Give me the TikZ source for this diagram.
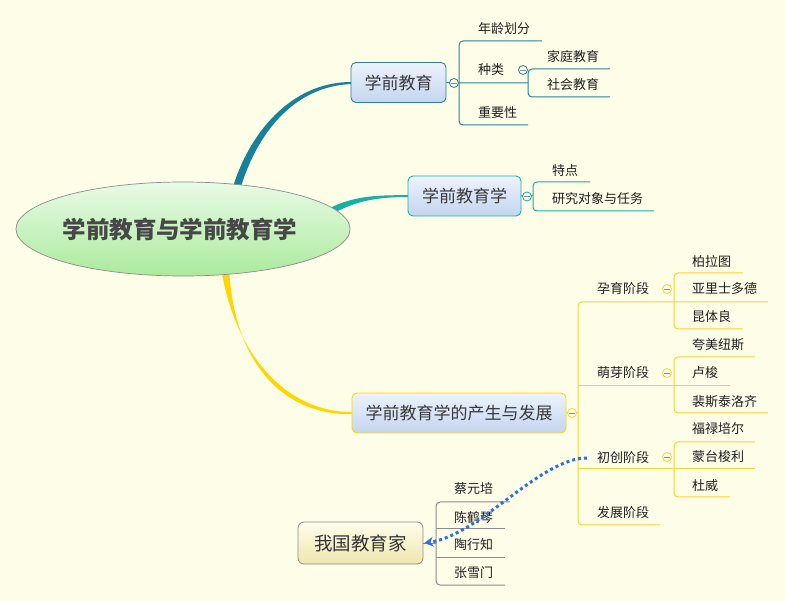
\documentclass[tikz,border=0pt]{standalone}
\usepackage{fontspec}
\newfontfamily\cjk{Noto Sans CJK SC}
\usetikzlibrary{arrows.meta,shapes.geometric}
\definecolor{bg}{HTML}{FEFDE8}
\definecolor{bA}{HTML}{17809A}
\definecolor{bAl}{HTML}{2A8496}
\definecolor{bB}{HTML}{16B0A6}
\definecolor{bC}{HTML}{FFD700}
\definecolor{bCl}{HTML}{F6D53A}
\definecolor{gl}{HTML}{8C8C8C}
\definecolor{boxtop}{HTML}{EEF3FC}
\definecolor{boxbot}{HTML}{C3D5F0}
\definecolor{eltop}{HTML}{E8FBE6}
\definecolor{elbot}{HTML}{ABEA9C}
\definecolor{ytop}{HTML}{FFFDEC}
\definecolor{ybot}{HTML}{EFE6AE}
\definecolor{arr}{HTML}{2F6FE0}
\begin{document}
\begin{tikzpicture}[x=1pt,y=-1pt,
  leaf/.style={font=\cjk\fontsize{13}{15}\selectfont, inner sep=0pt, text=black!88, anchor=west},
  topic/.style={draw, rounded corners=5pt, line width=0.9pt, top color=boxtop, bottom color=boxbot,
     font=\cjk\fontsize{17}{20}\selectfont, text=black!78, inner sep=0pt, minimum height=40pt},
  sub/.style={line width=1pt, rounded corners=4pt},
  knob/.style={circle, draw, fill=bg, minimum size=9pt, inner sep=0pt, line width=0.8pt,
     path picture={\draw[line width=0.6pt, gl] ([xshift=-2.6pt]path picture bounding box.center) -- ([xshift=2.6pt]path picture bounding box.center);}}
]
\fill[bg] (0,0) rectangle (785,601);
\useasboundingbox (0,0) rectangle (785,601);

% main tapered branches
\fill[bA] (232,190) .. controls (248,135) and (290,81.6) .. (352,82) -- (352,84) .. controls (291,86) and (255,138) .. (240,190) -- cycle;
\fill[bB] (326,210) .. controls (352,196) and (375,195) .. (409,195.2) -- (409,197) .. controls (376,197) and (356,201) .. (332,214) -- cycle;
\fill[bC] (221,268) .. controls (236,360) and (290,412.5) .. (352,412) -- (352,414) .. controls (286,416) and (234,366) .. (229,268) -- cycle;

% central
\node[ellipse, draw=gl, line width=0.7pt, top color=eltop, bottom color=elbot,
  minimum width=334pt, minimum height=94pt, inner sep=0pt] (root) at (183,229) {};
\node[font=\cjk\bfseries\fontsize{23.5}{26}\selectfont, text=black!72] at (180,229) {学前教育与学前教育学};

% branch A
\node[topic, draw=bAl, minimum width=95pt] (A) at (398.5,82.5) {学前教育};
\node[leaf] (A1) at (478,29) {年龄划分};
\node[leaf] (A2) at (478,70) {种类};
\node[leaf] (A3) at (478,113) {重要性};
\node[leaf] (A21) at (547,57) {家庭教育};
\node[leaf] (A22) at (547,85) {社会教育};
\coordinate (jA) at (459,83);
\coordinate (jA2) at (528,83);
\draw[sub, bAl] (542,41) -- (459,41) -- (459,125) -- (528,125);
\draw[sub, bAl] (A.east) -- (jA) -- (jA2);
\draw[sub, bAl] (610,69) -- (528,69) -- (528,97) -- (610,97);
\node[knob, draw=bAl] at (454,83) {};
\node[knob, draw=bAl] at (523,70) {};

% branch B
\node[topic, draw=bB, minimum width=113pt] (B) at (464.5,196) {学前教育学};
\node[leaf] (B1) at (552,171) {特点};
\node[leaf] (B2) at (552,199) {研究对象与任务};
\draw[sub, bB] (590,182) -- (533,182) -- (533,211) -- (654,211);
\draw[sub, bB] (B.east) -- (533,196);
\node[knob, draw=bB] at (527,196.5) {};

% branch C
\node[topic, draw=bC, minimum width=214pt] (C) at (459,413) {学前教育学的产生与发展};
\node[leaf] (C1) at (597,289) {孕育阶段};
\node[leaf] (C2) at (597,373) {萌芽阶段};
\node[leaf] (C3) at (597,458) {初创阶段};
\node[leaf] (C4) at (597,513) {发展阶段};
\draw[sub, bCl] (768,302) -- (578,302) -- (578,525) -- (660,525);
\draw[sub, bCl] (C.east) -- (578,413);
\draw[sub, bCl] (578,386) -- (674,386);
\draw[sub, bCl] (578,469) -- (674,469);
\node[knob, draw=bCl] at (572,413) {};

\node[leaf] (C11) at (692,262) {柏拉图};
\node[leaf] (C12) at (692,289) {亚里士多德};
\node[leaf] (C13) at (692,317) {昆体良};
\draw[sub, bCl] (743,273) -- (674,273) -- (674,329) -- (743,329);
\node[knob, draw=bCl] at (667,289) {};

\node[leaf] (C21) at (692,345) {夸美纽斯};
\node[leaf] (C22) at (692,373) {卢梭};
\node[leaf] (C23) at (692,402) {裴斯泰洛齐};
\draw[sub, bCl] (755,357) -- (674,357) -- (674,413) -- (768,413);
\draw[sub, bCl] (674,386) -- (730,386);
\node[knob, draw=bCl] at (667,373) {};

\node[leaf] (C31) at (692,429) {福禄培尔};
\node[leaf] (C32) at (692,457) {蒙台梭利};
\node[leaf] (C33) at (692,486) {杜威};
\draw[sub, bCl] (755,442) -- (674,442) -- (674,497) -- (730,497);
\draw[sub, bCl] (674,469) -- (755,469);
\node[knob, draw=bCl] at (667,457) {};

% floating topic
\node[draw=gl, rounded corners=6pt, line width=0.8pt, top color=ytop, bottom color=ybot,
  font=\cjk\fontsize{18.5}{22}\selectfont, text=black!80, inner sep=0pt,
  minimum width=125pt, minimum height=42pt] (W) at (360.5,543) {我国教育家};
\node[leaf] (W1) at (454,489) {蔡元培};
\node[leaf] (W2) at (454,518) {陈鹤琴};
\node[leaf] (W3) at (454,545) {陶行知};
\node[leaf] (W4) at (454,573) {张雪门};
\draw[sub, gl] (510,502) -- (436,502) -- (436,585) -- (505,585);
\draw[sub, gl] (436,529) -- (505,529);
\draw[sub, gl] (436,557) -- (505,557);
\draw[sub, gl] (W.east) -- (436,543);

% relationship arrow
\draw[arr, line width=3pt, dash pattern=on 3pt off 3pt, -{Stealth[length=9pt,width=10pt]}]
  ([xshift=-10pt]C3.west) .. controls (540,458) and (480,535) .. ([xshift=1pt]W.east);
\end{tikzpicture}
\end{document}
